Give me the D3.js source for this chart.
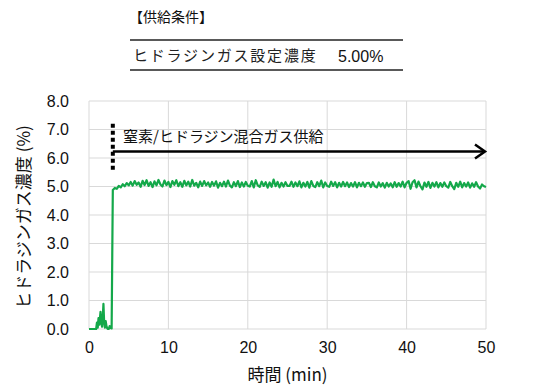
<!DOCTYPE html>
<html>
<head>
<meta charset="utf-8">
<script src="https://cdn.jsdelivr.net/npm/d3@7"></script>
<style>
  body { margin: 0; background: #fff; }
  svg { display: block; }
</style>
</head>
<body>
<svg id="chart"></svg>
<script>
// startup (before gas switch)
const startupMinutes = [0, 0.4, 0.9, 1.0, 1.1, 1.2, 1.3, 1.45, 1.55, 1.65, 1.75, 1.82, 1.9, 2.0, 2.1, 2.2, 2.3, 2.4, 2.5, 2.6, 2.7, 2.85];
const startupValues  = [0, 0, 0, 0.22, 0.05, 0.38, 0.15, 0.6, 0.22, 0.08, 0.5, 0.88, 0.3, 0.05, 0.28, 0.1, 0.02, 0, 0, 0.1, 0.04, 0.02];

// steady values every 0.25 min from 3.0 to 50.0
const steadyStart = 3.0;
const steadyStep = 0.25;
const steadyValues = [
  4.88, 4.95, 4.92, 5.02, 4.97, 5.08, 5.01, 5.12, 5.04,
  5.16, 5.03, 5.19, 5.06, 5.14, 4.99, 5.20, 5.05, 5.22, 5.02, 5.15, 4.98, 5.18, 5.04, 5.23, 5.07, 5.00, 5.21, 5.05, 5.16,
  4.98, 5.19, 5.06, 5.22, 5.01, 5.15, 4.99, 5.20, 5.04, 5.17, 5.00, 5.23, 5.03, 5.13, 4.97, 5.17, 5.02, 5.19, 5.04, 5.14,
  4.99, 5.16, 5.03, 5.18, 4.96, 5.13, 5.01, 5.17, 5.00, 5.21, 5.03, 4.97, 5.15, 5.01, 5.19, 4.98, 5.14, 5.00, 5.16, 5.03,
  5.00, 5.19, 4.97, 5.22, 5.04, 4.99, 5.17, 5.02, 5.15, 4.96, 5.14, 4.99, 5.24, 5.01, 5.16, 4.97, 5.13, 5.00, 5.15, 5.02,
  5.02, 5.17, 4.99, 5.14, 5.01, 5.18, 4.97, 5.13, 5.00, 5.16, 4.96, 5.19, 5.02, 4.98, 5.15, 5.01, 5.21, 4.97, 5.14, 5.02,
  4.99, 5.17, 5.02, 5.15, 4.97, 5.13, 5.00, 5.16, 5.01, 5.14, 4.98, 5.12, 5.00, 5.15, 4.97, 5.13, 5.01, 5.14, 4.99, 5.12,
  5.13, 4.98, 5.15, 5.01, 4.97, 5.14, 5.00, 5.12, 4.96, 5.13, 5.00, 5.11, 4.97, 5.15, 4.99, 5.12, 5.00, 5.17, 4.97, 5.13,
  5.19, 4.92, 5.15, 5.22, 4.97, 5.17, 5.01, 4.90, 5.14, 4.99, 5.16, 4.95, 5.13, 5.00, 5.15, 4.97, 5.12, 4.99, 5.14, 5.01,
  4.96, 5.16, 5.01, 4.91, 5.13, 4.99, 5.17, 4.97, 5.12, 5.00, 5.14, 4.96, 5.11, 4.99, 5.15, 5.00, 4.93, 5.07, 5.01, 4.98
];

const xTicks = [0, 10, 20, 30, 40, 50];
const yTicks = [0, 1, 2, 3, 4, 5, 6, 7, 8];

// annotation: gas switch at 3 min
const switchMinute = 3;
const arrowLevel = 6.23;
const dotsRange = [5.5, 7.2];

const conditionTitle = "【供給条件】";
const conditionLabel = "ヒドラジンガス設定濃度";
const conditionValue = "5.00%";

// set the dimensions and margins of the graph
let margin = {top: 101, right: 58, bottom: 57, left: 89},
    width = 544 - margin.left - margin.right,
    height = 386 - margin.top - margin.bottom;

let svgRoot = d3.select("#chart")
    .attr("width", 544)
    .attr("height", 386);

let x = d3.scaleLinear().domain([0, 50]).range([0, width]);
let y = d3.scaleLinear().domain([0, 8]).range([height, 0]);

// supply conditions box on top
svgRoot.append("text")
    .attr("x", 129).attr("y", 22)
    .attr("font-family", "'Noto Sans CJK JP', sans-serif")
    .attr("font-size", "14px")
    .attr("fill", "#111")
    .text(conditionTitle);
[40, 70].forEach(function(ly) {
  svgRoot.append("line")
      .attr("x1", 130).attr("x2", 403)
      .attr("y1", ly).attr("y2", ly)
      .attr("stroke", "#222").attr("stroke-width", 1.5);
});
svgRoot.append("text")
    .attr("x", 133).attr("y", 61)
    .attr("font-family", "'Noto Sans CJK JP', sans-serif")
    .attr("font-size", "15px")
    .attr("letter-spacing", "1.8px")
    .attr("fill", "#222")
    .text(conditionLabel);
svgRoot.append("text")
    .attr("x", 338).attr("y", 62)
    .attr("font-family", "'Liberation Sans', Arial, sans-serif")
    .attr("font-size", "16px")
    .attr("fill", "#111")
    .text(conditionValue);

let svg = svgRoot.append("g")
    .attr("transform", "translate(" + margin.left + "," + margin.top + ")");

// gridlines
svg.append("g").selectAll("line")
    .data(yTicks)
    .enter().append("line")
    .attr("x1", 0).attr("x2", width)
    .attr("y1", function(d) { return y(d); })
    .attr("y2", function(d) { return y(d); })
    .attr("stroke", "#d9d9d9").attr("stroke-width", 1);
svg.append("g").selectAll("line")
    .data(xTicks)
    .enter().append("line")
    .attr("y1", 0).attr("y2", height)
    .attr("x1", function(d) { return x(d); })
    .attr("x2", function(d) { return x(d); })
    .attr("stroke", "#d9d9d9").attr("stroke-width", 1);

// axes (labels only, lines from the grid)
let xAxis = svg.append("g")
    .attr("transform", "translate(0," + height + ")")
    .call(d3.axisBottom(x).tickValues(xTicks).tickSize(0).tickPadding(13).tickFormat(d3.format("d")));
let yAxis = svg.append("g")
    .call(d3.axisLeft(y).tickValues(yTicks).tickSize(0).tickPadding(20).tickFormat(d3.format(".1f")));
[xAxis, yAxis].forEach(function(a) {
  a.select(".domain").remove();
  a.selectAll("text")
      .attr("font-family", "'Liberation Sans', Arial, sans-serif")
      .attr("font-size", "16px")
      .attr("fill", "#111");
});

// data line
let points = startupMinutes.map(function(t, i) { return [t, startupValues[i]]; })
    .concat(steadyValues.map(function(v, i) { return [steadyStart + i * steadyStep, v]; }));

svg.append("path")
    .datum(points)
    .attr("fill", "none")
    .attr("stroke", "#14a84a")
    .attr("stroke-width", 2.2)
    .attr("stroke-linejoin", "round")
    .attr("d", d3.line()
        .x(function(d) { return x(d[0]); })
        .y(function(d) { return y(d[1]); }));

// dotted marker at the switch
svg.append("line")
    .attr("x1", x(switchMinute)).attr("x2", x(switchMinute))
    .attr("y1", y(dotsRange[1])).attr("y2", y(dotsRange[0]))
    .attr("stroke", "#000").attr("stroke-width", 4)
    .attr("stroke-dasharray", "4,3");

// arrow
svg.append("line")
    .attr("x1", x(switchMinute)).attr("x2", x(50) - 1)
    .attr("y1", y(arrowLevel)).attr("y2", y(arrowLevel))
    .attr("stroke", "#000").attr("stroke-width", 2.5);
svg.append("path")
    .attr("d", "M" + (x(50) - 11) + "," + (y(arrowLevel) - 7) +
               "L" + (x(50) - 1) + "," + y(arrowLevel) +
               "L" + (x(50) - 11) + "," + (y(arrowLevel) + 7))
    .attr("fill", "none").attr("stroke", "#000").attr("stroke-width", 2.5);

svg.append("text")
    .attr("x", 34).attr("y", y(6.5) + 0)
    .attr("dy", "-0.1em")
    .attr("font-family", "'Noto Sans CJK JP', sans-serif")
    .attr("font-size", "15px")
    .attr("fill", "#111")
    .text("窒素/ヒドラジン混合ガス供給");

// axis titles
svgRoot.append("text")
    .attr("x", margin.left + width / 2).attr("y", 381)
    .attr("text-anchor", "middle")
    .attr("font-family", "'Noto Sans CJK JP', sans-serif")
    .attr("font-size", "17px")
    .attr("fill", "#111")
    .text("時間 (min)");

svgRoot.append("text")
    .attr("transform", "translate(30," + (margin.top + height / 2 + 2) + ")rotate(-90)")
    .attr("text-anchor", "middle")
    .attr("font-family", "'Noto Sans CJK JP', sans-serif")
    .attr("font-size", "17px")
    .attr("fill", "#111")
    .text("ヒドラジンガス濃度 (%)");
</script>
</body>
</html>
